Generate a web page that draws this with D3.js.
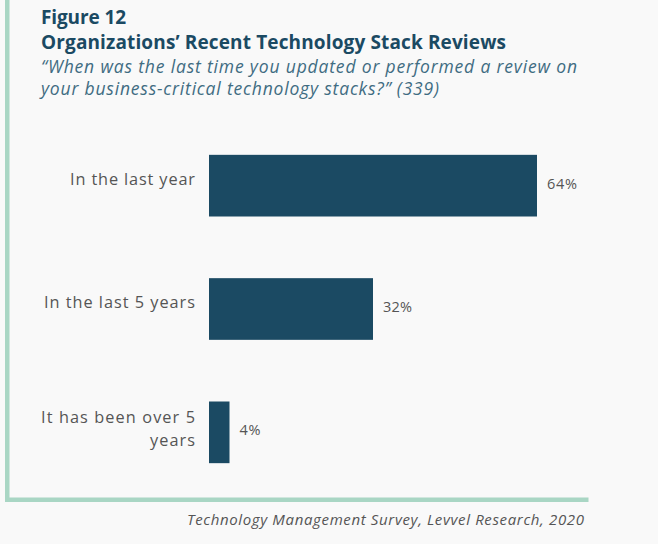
<!DOCTYPE html>
<html>
<head>
<meta charset="utf-8">
<script src="https://cdn.jsdelivr.net/npm/d3@7"></script>
<style>
  html, body { margin: 0; padding: 0; background: #f9f9f9; }
  svg { display: block; }
</style>
</head>
<body>
<svg id="chart" width="658" height="544"></svg>
<script>
// Survey responses: when the stack was last reviewed
const categories = ["In the last year", "In the last 5 years", "It has been over 5 years"];
const categoryLines = [["In the last year"], ["In the last 5 years"], ["It has been over 5", "years"]];
const shares = [64, 32, 4];
const valueLabels = ["64%", "32%", "4%"];

const titleLines = ["Figure 12", "Organizations\u2019 Recent Technology Stack Reviews"];
const subtitleLines = ["\u201cWhen was the last time you updated or performed a review on",
                       "your business-critical technology stacks?\u201d (339)"];
const sourceText = "Technology Management Survey, Levvel Research, 2020";

const navy = "#1b4a63";
const frame = "#a9d6c4";
const grey = "#555555";
const font = "'Open Sans', sans-serif";

// Spread a text's letters so it spans the given width; keeps the right edge for end-anchored text
function spread(sel, width) {
  sel.each(function() {
    const node = this;
    const n = node.textContent.length;
    const w0 = node.getComputedTextLength();
    const ls = n > 1 ? (width - w0) / (n - 1) : 0;
    node.setAttribute("letter-spacing", ls);
    if (node.getAttribute("text-anchor") === "end") {
      node.setAttribute("x", +node.getAttribute("x") + ls);
    }
  });
}

const svg = d3.select("#chart");
svg.append("rect").attr("width", 658).attr("height", 544).attr("fill", "#f9f9f9");

// Frame: left rule and bottom rule
svg.append("rect").attr("x", 5).attr("y", 0).attr("width", 4.5).attr("height", 502).attr("fill", frame);
svg.append("rect").attr("x", 5).attr("y", 497.5).attr("width", 583.5).attr("height", 4.5).attr("fill", frame);

// Titles
const titleWidths = [85, 465];
svg.selectAll("text.title").data(titleLines).join("text")
  .attr("class", "title")
  .attr("x", 41).attr("y", (d, i) => 24 + i * 24.5)
  .attr("font-family", font).attr("font-weight", 700).attr("font-size", 19)
  .attr("fill", navy).text(d => d)
  .each(function(d, i) { spread(d3.select(this), titleWidths[i]); });

const subtitleWidths = [536, 398];
svg.selectAll("text.subtitle").data(subtitleLines).join("text")
  .attr("class", "subtitle")
  .attr("x", 41).attr("y", (d, i) => 72.5 + i * 22.5)
  .attr("font-family", font).attr("font-style", "italic").attr("font-size", 17.5)
  .attr("fill", "#3f6c82").text(d => d)
  .each(function(d, i) { spread(d3.select(this), subtitleWidths[i]); });

// Scales
const x = d3.scaleLinear().domain([0, 64]).range([209, 537]);
const y = d3.scaleBand().domain(categories).range([124, 494]).paddingInner(0.5).paddingOuter(0.25);

const rows = svg.append("g").selectAll("g").data(categories).join("g");

rows.append("rect")
  .attr("x", x(0))
  .attr("y", d => y(d))
  .attr("width", (d, i) => x(shares[i]) - x(0))
  .attr("height", y.bandwidth())
  .attr("fill", navy);

const valueWidths = [30, 29, 21];
rows.append("text")
  .attr("x", (d, i) => x(shares[i]) + 10)
  .attr("y", d => y(d) + y.bandwidth() / 2 + 3)
  .attr("font-family", font).attr("font-size", 14.5)
  .attr("fill", grey).text((d, i) => valueLabels[i])
  .each(function(d, i) { spread(d3.select(this), valueWidths[i]); });

const labelWidths = [[125], [151], [154, 45]];
rows.each(function(d, i) {
  const lines = categoryLines[i];
  const mid = y(d) + y.bandwidth() / 2;
  const lh = 23.3;
  const y0 = lines.length > 1 ? mid + 2 - (lines.length - 1) * lh / 2 : mid - 1;
  d3.select(this).selectAll("text.cat").data(lines).join("text")
    .attr("class", "cat")
    .attr("x", 195)
    .attr("y", (t, j) => y0 + j * lh)
    .attr("font-family", font).attr("font-size", 16.3)
    .attr("fill", grey).attr("text-anchor", "end").text(t => t)
    .each(function(t, j) { spread(d3.select(this), labelWidths[i][j]); });
});

// Source note
svg.append("text")
  .attr("x", 584).attr("y", 525)
  .attr("text-anchor", "end")
  .attr("font-family", font).attr("font-style", "italic").attr("font-size", 15)
  .attr("fill", grey).text(sourceText)
  .call(spread, 397);
</script>
</body>
</html>
